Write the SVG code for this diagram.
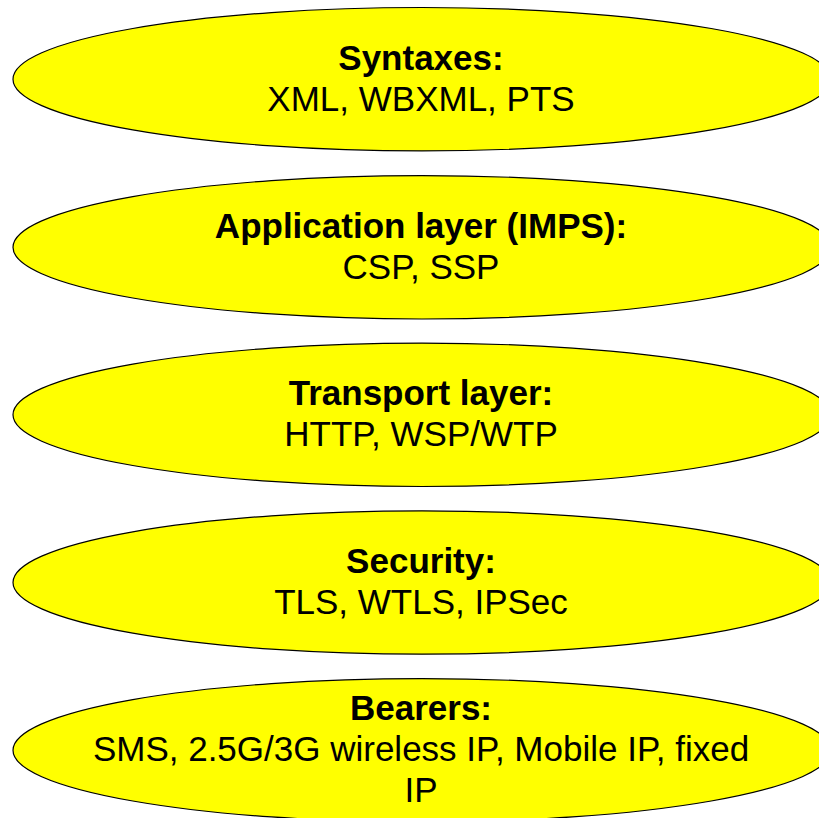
<svg xmlns="http://www.w3.org/2000/svg" width="819" height="818" viewBox="0 0 819 818">
<style>
.node ellipse{fill:#ffff00;stroke:#000;stroke-width:1.2}
text{font-family:"Liberation Sans",Arial,sans-serif;font-size:35px;fill:#000;text-anchor:middle}
.b{font-weight:bold}
</style>
<rect width="819" height="818" fill="#fff"/>
<g id="connectors"></g>
<g id="syntaxes" class="node">
<ellipse cx="422" cy="79.2" rx="409" ry="71.7"/>
<text x="421" y="69.5" class="b">Syntaxes:</text>
<text x="421" y="110.5">XML, WBXML, PTS</text>
</g>
<g id="application" class="node">
<ellipse cx="422" cy="247.3" rx="409" ry="71.7"/>
<text x="421" y="237.5" class="b">Application layer (IMPS):</text>
<text x="421" y="278.5">CSP, SSP</text>
</g>
<g id="transport" class="node">
<ellipse cx="422" cy="414.8" rx="409" ry="71.7"/>
<text x="421" y="405" class="b">Transport layer:</text>
<text x="421" y="446">HTTP, WSP/WTP</text>
</g>
<g id="security" class="node">
<ellipse cx="422" cy="582.5" rx="409" ry="71.7"/>
<text x="421" y="572.5" class="b">Security:</text>
<text x="421" y="613.5">TLS, WTLS, IPSec</text>
</g>
<g id="bearers" class="node">
<ellipse cx="422" cy="750.3" rx="409" ry="71.7"/>
<text x="421" y="719.5" class="b">Bearers:</text>
<text x="421" y="760.5">SMS, 2.5G/3G wireless IP, Mobile IP, fixed</text>
<text x="421" y="801.5">IP</text>
</g>
</svg>
